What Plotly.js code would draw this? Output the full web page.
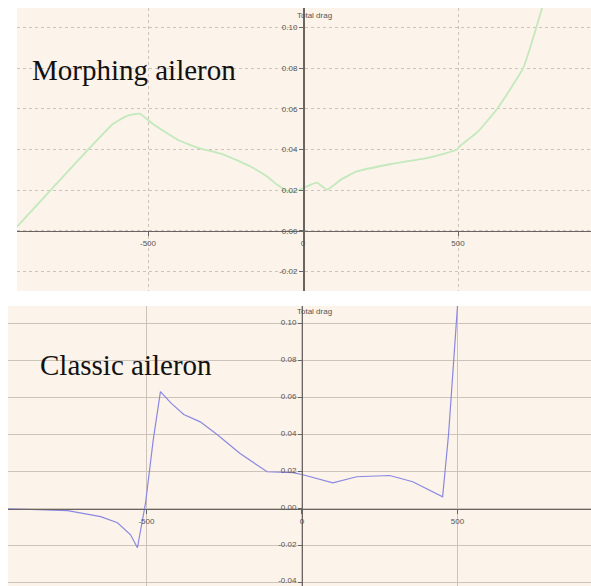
<!DOCTYPE html>
<html>
<head>
<meta charset="utf-8">
<script src="https://cdn.plot.ly/plotly-3.0.1.min.js"></script>
<style>
  html, body { margin: 0; padding: 0; background: #ffffff; }
  #chart { width: 591px; height: 586px; }
</style>
</head>
<body>
<div id="chart"></div>
<script>
// Total drag versus aileron deflection input, two aileron concepts.
const morphX = [-923, -613, -568, -526, -484, -406, -342, -258, -171, -116, -84, -42, 0, 13, 45, 77, 120, 174, 281, 410, 497, 506, 565, 626, 710, 774];
const morphY = [0.002, 0.0526, 0.0566, 0.0576, 0.0526, 0.045, 0.041, 0.0377, 0.0318, 0.0268, 0.0228, 0.019, 0.021, 0.022, 0.0238, 0.0203, 0.025, 0.0293, 0.0328, 0.0362, 0.040, 0.0417, 0.049, 0.060, 0.080, 0.111];

const classicX = [-945, -753, -647, -593, -551, -529, -503, -478, -455, -420, -380, -327, -272, -200, -112, -29, 3, 99, 176, 282, 356, 452, 471, 487, 500];
const classicY = [0.000, -0.001, -0.0043, -0.0076, -0.0141, -0.0211, 0.003, 0.0374, 0.0634, 0.057, 0.051, 0.047, 0.040, 0.030, 0.020, 0.0195, 0.0184, 0.014, 0.0173, 0.018, 0.0146, 0.0065, 0.040, 0.079, 0.110];

const xTicks = [-500, 0, 500];
const xTickText = ['-500', '0', '500'];
const topYTicks = [-0.02, 0.00, 0.02, 0.04, 0.06, 0.08, 0.10];
const bottomYTicks = [-0.04, -0.02, 0.00, 0.02, 0.04, 0.06, 0.08, 0.10];
const panelTitles = ['Morphing aileron', 'Classic aileron'];
const axisLabel = 'Total drag';

// panel geometry (paper fractions) and data ranges
const topDomX = [17 / 591, 1], topDomY = [295 / 586, 578 / 586];
const botDomX = [8 / 591, 1], botDomY = [0, 280 / 586];
const topRangeX = [-922.6, 929], topRangeY = [-0.0295, 0.1096];
const botRangeX = [-945, 929], botRangeY = [-0.0418, 0.1097];

// place an axis line where the other axis crosses zero
function zeroPos(range, dom) {
  return dom[0] + (0 - range[0]) / (range[1] - range[0]) * (dom[1] - dom[0]);
}

const bg = '#fcf3ea';
const tickFont = { family: 'Liberation Sans, Arial, sans-serif', size: 8, color: '#555' };
const gridSolid = '#cdc3b8';

function xAxis(range, dom, anchorY, rangeY, dash) {
  return {
    range: range, domain: dom, anchor: 'free', position: zeroPos(rangeY, anchorY),
    tickvals: xTicks, ticktext: xTickText, tickfont: tickFont,
    ticks: 'outside', ticklen: 4, tickcolor: '#666', ticklabeloverflow: 'allow',
    showline: true, linecolor: '#6a6560', linewidth: 1.5,
    showgrid: true, gridcolor: gridSolid, gridwidth: 1, griddash: dash,
    zeroline: false, fixedrange: true
  };
}
function yAxis(range, dom, ticks, anchorX, rangeX, dash, shift) {
  return {
    range: range, domain: dom, anchor: 'free', position: zeroPos(rangeX, anchorX),
    tickvals: ticks, ticktext: ticks.map(v => v.toFixed(2)), tickfont: tickFont,
    ticks: 'outside', ticklen: 4, tickcolor: '#666', ticklabeloverflow: 'allow',
    ticklabelshift: shift,
    showline: true, linecolor: '#6a6560', linewidth: 1.5,
    showgrid: true, gridcolor: gridSolid, gridwidth: 1, griddash: dash,
    zeroline: false, fixedrange: true
  };
}

const traces = [
  { x: morphX, y: morphY, xaxis: 'x', yaxis: 'y', type: 'scatter', mode: 'lines',
    line: { color: '#c3e9bd', width: 1.8, shape: 'spline', smoothing: 0.4 }, hoverinfo: 'skip' },
  { x: classicX, y: classicY, xaxis: 'x2', yaxis: 'y2', type: 'scatter', mode: 'lines',
    line: { color: '#8b88e2', width: 1.2 }, hoverinfo: 'skip' }
];

const topY = yAxis(topRangeY, topDomY, topYTicks, topDomX, topRangeX, 'dot', 0);
const botY = yAxis(botRangeY, botDomY, bottomYTicks, botDomX, botRangeX, 'solid', -2);

// solid major grid every other line in the upper panel
const topYSolid = {
  range: topRangeY, domain: topDomY, overlaying: 'y', anchor: 'free', position: topY.position,
  tickmode: 'linear', tick0: -0.02, dtick: 0.04, showticklabels: false, ticks: '',
  showgrid: true, gridcolor: gridSolid, gridwidth: 1, showline: false, zeroline: false, fixedrange: true
};

const layout = {
  width: 591, height: 586,
  margin: { l: 0, r: 0, t: 0, b: 0, pad: 0 },
  paper_bgcolor: '#ffffff',
  plot_bgcolor: bg,
  showlegend: false,
  xaxis: xAxis(topRangeX, topDomX, topDomY, topRangeY, 'dot'),
  yaxis: topY,
  yaxis3: topYSolid,
  xaxis2: xAxis(botRangeX, botDomX, botDomY, botRangeY, 'solid'),
  yaxis2: botY,
  shapes: [
    { type: 'rect', xref: 'paper', yref: 'paper', layer: 'below',
      x0: topDomX[0], x1: topDomX[1], y0: topDomY[0], y1: topDomY[1],
      fillcolor: bg, line: { width: 0 } },
    { type: 'rect', xref: 'paper', yref: 'paper', layer: 'below',
      x0: botDomX[0], x1: botDomX[1], y0: botDomY[0], y1: botDomY[1],
      fillcolor: bg, line: { width: 0 } }
  ],
  annotations: [
    { text: panelTitles[0], xref: 'paper', yref: 'paper', x: 30 / 591, y: (586 - 70) / 586,
      xanchor: 'left', yanchor: 'middle', showarrow: false,
      font: { family: 'Liberation Serif, Times New Roman, serif', size: 29, color: '#111' } },
    { text: panelTitles[1], xref: 'paper', yref: 'paper', x: 38 / 591, y: (586 - 365) / 586,
      xanchor: 'left', yanchor: 'middle', showarrow: false,
      font: { family: 'Liberation Serif, Times New Roman, serif', size: 29, color: '#111' } },
    { text: axisLabel, xref: 'paper', yref: 'paper', x: 295 / 591, y: (586 - 15) / 586,
      xanchor: 'left', yanchor: 'middle', showarrow: false, font: tickFont },
    { text: axisLabel, xref: 'paper', yref: 'paper', x: 295 / 591, y: (586 - 312) / 586,
      xanchor: 'left', yanchor: 'middle', showarrow: false, font: tickFont }
  ]
};

Plotly.newPlot('chart', traces, layout, { displayModeBar: false, staticPlot: true });
</script>
</body>
</html>
